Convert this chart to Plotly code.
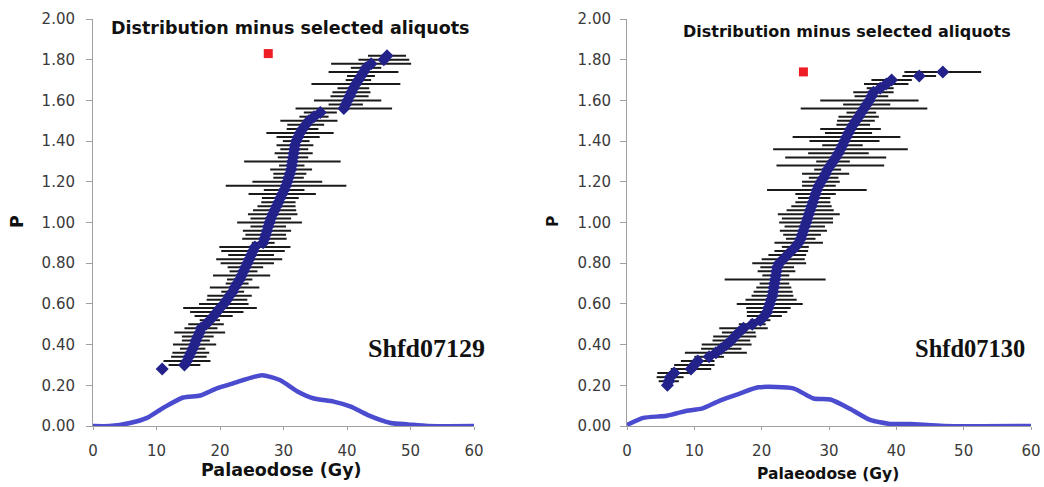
import plotly.graph_objects as go

# ---------------- data: left panel (Shfd07129) ----------------
p_left = [0.28, 0.30, 0.32, 0.34, 0.36, 0.38, 0.40, 0.42, 0.44, 0.46,
          0.48, 0.50, 0.52, 0.54, 0.56, 0.58, 0.60, 0.62, 0.64, 0.66,
          0.68, 0.70, 0.72, 0.74, 0.76, 0.78, 0.80, 0.82, 0.84, 0.86,
          0.88, 0.90, 0.92, 0.94, 0.96, 0.98, 1.00, 1.02, 1.04, 1.06,
          1.08, 1.10, 1.12, 1.14, 1.16, 1.18, 1.20, 1.22, 1.24, 1.26,
          1.28, 1.30, 1.32, 1.34, 1.36, 1.38, 1.40, 1.42, 1.44, 1.46,
          1.48, 1.50, 1.52, 1.54, 1.56, 1.58, 1.60, 1.62, 1.64, 1.66,
          1.68, 1.70, 1.72, 1.74, 1.76, 1.78, 1.80, 1.82]
de_left = [10.9, 14.4, 14.8, 15.1, 15.4, 15.7, 16.0, 16.2, 16.5, 16.8,
           17.0, 17.8, 18.4, 19.0, 19.5, 20.0, 20.6, 21.1, 21.5, 22.0,
           22.3, 22.7, 23.1, 23.4, 23.7, 24.0, 24.3, 24.6, 24.9, 25.2,
           25.5, 26.8, 27.0, 27.2, 27.4, 27.6, 27.8, 28.0, 28.3, 28.6,
           28.9, 29.2, 29.5, 29.8, 30.1, 30.4, 30.6, 30.8, 31.0, 31.2,
           31.3, 31.4, 31.5, 31.6, 31.7, 31.8, 32.0, 32.3, 32.6, 33.0,
           33.5, 34.0, 34.8, 35.8, 39.5, 39.8, 40.1, 40.4, 40.7, 41.0,
           41.4, 41.8, 42.2, 42.6, 43.0, 43.8, 45.8, 46.3]
err_left = [0.0, 2.5, 3.7, 2.8, 2.9, 2.0, 3.4, 2.2, 2.5, 4.0,
            2.6, 2.8, 1.6, 3.0, 4.2, 5.8, 3.9, 3.2, 3.5, 1.8,
            3.9, 1.8, 2.0, 4.5, 2.2, 2.8, 4.2, 5.2, 3.6, 5.0,
            5.6, 1.8, 3.5, 3.2, 3.8, 2.8, 5.1, 3.2, 3.9, 3.4,
            3.0, 2.7, 2.9, 5.3, 3.2, 9.5, 5.5, 2.4, 2.6, 3.3,
            2.0, 7.6, 2.4, 3.0, 2.2, 2.9, 2.1, 3.4, 5.3, 2.5,
            2.9, 4.5, 2.3, 2.6, 7.6, 2.7, 5.3, 3.0, 3.0, 2.5,
            7.0, 2.0, 2.2, 5.5, 2.4, 6.3, 4.0, 3.0]
red_left_de = [27.6]
red_left_p = [1.83]

dist_left_x = [0, 2.6, 5.8, 8.5, 11.1, 14.2, 16.9, 19.5, 22.1, 26.6, 29.5,
               32.2, 34.8, 37.9, 40.6, 43.2, 46.9, 49.6, 52.7, 60]
dist_left_y = [0, 0, 0.015, 0.04, 0.09, 0.14, 0.15, 0.185, 0.21, 0.25, 0.225,
               0.17, 0.135, 0.12, 0.095, 0.055, 0.015, 0.008, 0, 0]

# ---------------- data: right panel (Shfd07130) ----------------
p_right = [0.20, 0.22, 0.24, 0.26, 0.28, 0.30, 0.32, 0.34, 0.36, 0.38,
           0.40, 0.42, 0.44, 0.46, 0.48, 0.50, 0.52, 0.54, 0.56, 0.58,
           0.60, 0.62, 0.64, 0.66, 0.68, 0.70, 0.72, 0.74, 0.76, 0.78,
           0.80, 0.82, 0.84, 0.86, 0.88, 0.90, 0.92, 0.94, 0.96, 0.98,
           1.00, 1.02, 1.04, 1.06, 1.08, 1.10, 1.12, 1.14, 1.16, 1.18,
           1.20, 1.22, 1.24, 1.26, 1.28, 1.30, 1.32, 1.34, 1.36, 1.38,
           1.40, 1.42, 1.44, 1.46, 1.48, 1.50, 1.52, 1.54, 1.56, 1.58,
           1.60, 1.62, 1.64, 1.66, 1.68, 1.70, 1.72, 1.74]
de_right = [6.0, 6.2, 6.4, 7.0, 9.5, 10.0, 10.5, 12.2, 13.2, 14.0,
            14.8, 15.5, 16.0, 16.6, 17.3, 18.6, 19.8, 20.4, 20.8, 21.0,
            21.2, 21.4, 21.6, 21.7, 21.8, 21.9, 22.0, 22.1, 22.2, 22.3,
            22.6, 23.2, 23.8, 24.4, 25.0, 25.5, 25.8, 26.0, 26.2, 26.4,
            26.6, 26.8, 27.0, 27.2, 27.4, 27.6, 27.8, 28.0, 28.2, 28.5,
            28.8, 29.2, 29.5, 29.8, 30.2, 30.6, 31.0, 31.4, 31.7, 32.0,
            32.3, 32.6, 32.9, 33.2, 33.6, 34.0, 34.4, 34.8, 35.2, 35.6,
            36.0, 36.3, 36.6, 37.6, 38.5, 39.3, 43.4, 46.9]
err_right = [0.0, 1.5, 2.0, 2.5, 3.0, 3.0, 2.5, 2.2, 4.6, 3.0,
             3.7, 2.8, 3.2, 2.5, 3.6, 2.0, 1.5, 2.6, 3.0, 3.3,
             4.9, 3.8, 3.1, 2.9, 2.6, 2.2, 7.5, 2.0, 2.8, 2.5,
             4.0, 3.2, 2.8, 2.5, 2.0, 3.6, 2.2, 2.8, 3.5, 3.0,
             4.0, 3.8, 4.6, 3.5, 3.0, 2.6, 2.4, 3.0, 7.4, 2.5,
             2.8, 2.2, 3.5, 2.0, 8.0, 2.5, 7.5, 4.5, 10.0, 3.0,
             5.2, 8.0, 3.5, 4.5, 2.5, 2.8, 3.0, 2.2, 9.4, 3.5,
             7.3, 2.5, 3.0, 2.0, 3.3, 3.0, 2.5, 5.7]
red_right_de = [26.2]
red_right_p = [1.74]

dist_right_x = [0, 2.4, 5.9, 8.9, 11.1, 13.8, 16.8, 19.5, 24.7, 27.7, 30.2,
                33.1, 36.1, 39.1, 42.0, 47.0, 60]
dist_right_y = [0.005, 0.04, 0.05, 0.075, 0.085, 0.125, 0.16, 0.19, 0.185, 0.135, 0.13,
                0.085, 0.03, 0.01, 0.01, 0, 0]

# ---------------- text ----------------
title_text = "Distribution minus selected aliquots"
x_title = "Palaeodose (Gy)"
y_title = "P"
sample_left = "Shfd07129"
sample_right = "Shfd07130"
y_ticks = [0, 0.2, 0.4, 0.6, 0.8, 1.0, 1.2, 1.4, 1.6, 1.8, 2.0]
x_ticks = [0, 10, 20, 30, 40, 50, 60]

W, H = 1044, 487


def px(sx):
    return sx / W


def py(sy):
    return 1 - sy / H


NAVY = "#23228a"
LINE = "#4b4bd0"
SANS = "DejaVu Sans, Verdana, sans-serif"
SERIF = "Liberation Serif, Times New Roman, serif"

fig = go.Figure()


def add_panel(xa, ya, de, p, err, rde, rp, dx, dy):
    fig.add_trace(go.Scatter(
        x=dx, y=dy, mode="lines", xaxis=xa, yaxis=ya,
        line=dict(color=LINE, width=4.5, shape="spline", smoothing=0.6),
        showlegend=False, hoverinfo="skip"))
    fig.add_trace(go.Scatter(
        x=de, y=p, mode="markers", xaxis=xa, yaxis=ya,
        marker=dict(symbol="diamond", size=10, color=NAVY),
        error_x=dict(type="data", array=err, visible=True,
                     color="#1a1a1a", thickness=2, width=0),
        showlegend=False))
    fig.add_trace(go.Scatter(
        x=rde, y=rp, mode="markers", xaxis=xa, yaxis=ya,
        marker=dict(symbol="square", size=9, color="#ee1c24"),
        showlegend=False))


add_panel("x", "y", de_left, p_left, err_left, red_left_de, red_left_p,
          dist_left_x, dist_left_y)
add_panel("x2", "y2", de_right, p_right, err_right, red_right_de, red_right_p,
          dist_right_x, dist_right_y)

ydom = [py(426), py(19)]

axis_common = dict(showgrid=False, zeroline=False, showline=True,
                   linecolor="#a0a0a0", linewidth=1, ticks="outside",
                   tickcolor="#a0a0a0", ticklabeloverflow="allow",
                   tickfont=dict(family=SANS, size=15, color="#3a3a3a"),
                   automargin=False)

fig.update_layout(
    width=W, height=H,
    margin=dict(l=0, r=0, t=0, b=0),
    paper_bgcolor="white", plot_bgcolor="white",
    xaxis=dict(domain=[px(93), px(474)], range=[0, 60], tickvals=x_ticks,
               anchor="y", ticklen=3, ticklabelstandoff=8, **axis_common),
    yaxis=dict(domain=ydom, range=[0, 2.0], tickvals=y_ticks, tickformat=".2f",
               anchor="x", ticklen=6, ticklabelstandoff=8, **axis_common),
    xaxis2=dict(domain=[px(627), px(1031)], range=[0, 60], tickvals=x_ticks,
                anchor="y2", ticklen=3, ticklabelstandoff=8, **axis_common),
    yaxis2=dict(domain=ydom, range=[0, 2.0], tickvals=y_ticks, tickformat=".2f",
                anchor="x2", ticklen=6, ticklabelstandoff=6, **axis_common),
)

ann = []
panels = [
    # x-title center, x-title y, P x, title center, title y, title size, axis-title size, sample x, sample size, sample text
    (281, 470, 17, 290, 28, 17.5, 17.5, 426, 26, sample_left),
    (828, 474, 553, 847, 32, 16, 15.5, 970, 24.5, sample_right),
]
for xc, xy, ptx, tc, ty, tsz, asz, sx, ssz, st in panels:
    common = dict(xref="paper", yref="paper", showarrow=False,
                  xanchor="center", yanchor="middle")
    ann.append(dict(x=px(xc), y=py(xy), text="<b>" + x_title + "</b>",
                    font=dict(family=SANS, size=asz, color="#111111"), **common))
    ann.append(dict(x=px(ptx), y=py(222), text="<b>" + y_title + "</b>",
                    textangle=-90,
                    font=dict(family=SANS, size=asz, color="#111111"), **common))
    ann.append(dict(x=px(tc), y=py(ty), text="<b>" + title_text + "</b>",
                    font=dict(family=SANS, size=tsz, color="#111111"), **common))
    ann.append(dict(x=px(sx), y=py(348), text="<b>" + st + "</b>",
                    font=dict(family=SERIF, size=ssz, color="#111111"), **common))
fig.update_layout(annotations=ann)

# remove the default 8px page margin so the figure fills the window exactly
fig.write_html("out.html",
               config={"displayModeBar": False},
               post_script="document.body.style.margin='0';document.body.style.overflow='hidden';")
